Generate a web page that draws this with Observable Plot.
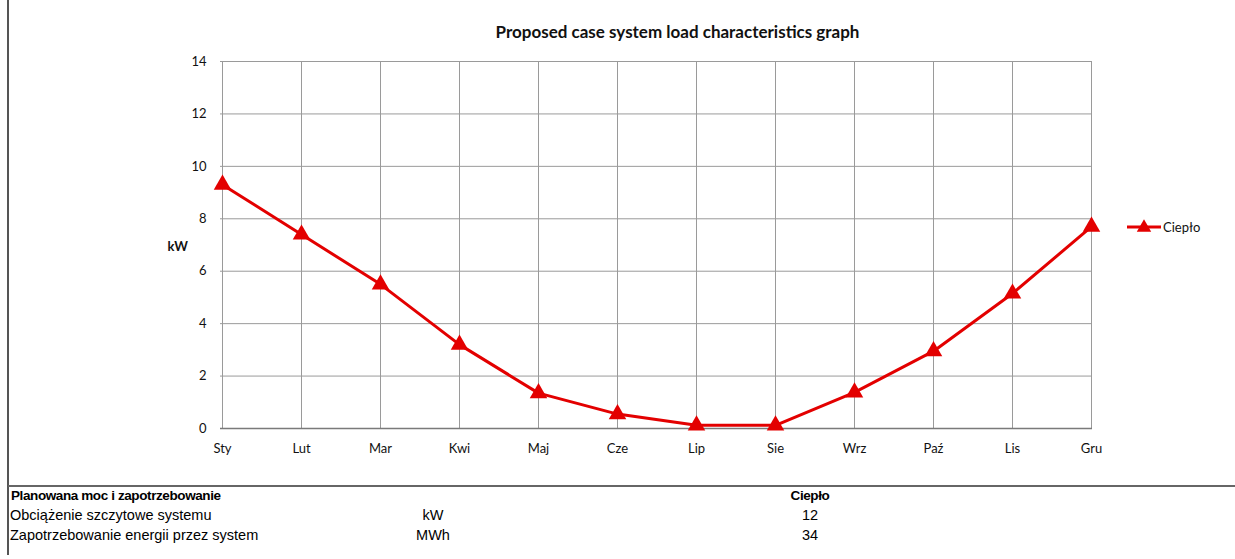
<!DOCTYPE html>
<html>
<head>
<meta charset="utf-8">
<script src="https://cdn.jsdelivr.net/npm/d3@7"></script>
<script src="https://cdn.jsdelivr.net/npm/@observablehq/plot@0.6"></script>
<style>
  html, body { margin: 0; padding: 0; background: #fff; }
  #page { position: relative; width: 1235px; height: 559px; overflow: hidden; font-family: Lato, "Open Sans", sans-serif; background: #fff; }
  #title { position: absolute; left: 0; top: 21px; width: 1355px; text-align: center; font-weight: bold; font-size: 17px; color: #111; }
  #chart { position: absolute; left: 0; top: 50px; }
  #chart svg { background: transparent !important; }
  #legend { position: absolute; left: 1127px; top: 219px; font-size: 13px; color: #111; display: flex; align-items: center; }
  #vline { position: absolute; left: 7px; top: 0; width: 2px; height: 555px; background: #555; z-index: 5; }
  #hline { position: absolute; left: 8px; top: 485px; width: 1227px; height: 2px; background: #666; z-index: 5; }
  #table { position: absolute; left: 0; top: 489px; font-family: "Liberation Sans", Arial, sans-serif; font-size: 14.5px; color: #000; }
  #table .row { position: absolute; white-space: nowrap; }
  #table .bold { font-weight: bold; font-size: 13.5px; letter-spacing: -0.4px; }
</style>
</head>
<body>
<div id="page">
  <div id="title">Proposed case system load characteristics graph</div>
  <div id="chart"></div>
  <div id="legend"></div>
  <div id="table"></div>
  <div id="vline"></div>
  <div id="hline"></div>
</div>
<script>
// Months (Polish abbreviations) and monthly heat load in kW
const months = ["Sty", "Lut", "Mar", "Kwi", "Maj", "Cze", "Lip", "Sie", "Wrz", "Paź", "Lis", "Gru"];
const heatKW = [9.3, 7.4, 5.5, 3.2, 1.35, 0.55, 0.12, 0.12, 1.38, 2.95, 5.15, 7.7];
const yTicks = [0, 2, 4, 6, 8, 10, 12, 14];
const seriesName = "Ciepło";

// Summary table rows
const tableHeader = ["Planowana moc i zapotrzebowanie", "", "Ciepło"];
const tableLabels = ["Obciążenie szczytowe systemu", "Zapotrzebowanie energii przez system"];
const tableUnits = ["kW", "MWh"];
const tableValues = [12, 34];

const red = "#e30000";
const gridColor = "#9a9a9a";

const data = months.map((m, i) => ({month: m, value: heatKW[i]}));

const chart = Plot.plot({
  width: 1235,
  height: 420,
  marginTop: 11,
  marginBottom: 42,
  marginLeft: 220,
  marginRight: 143,
  style: {fontFamily: "Lato, 'Open Sans', sans-serif", fontSize: "13px", color: "#111", background: "transparent"},
  x: {type: "point", domain: months, padding: 0, label: null},
  y: {domain: [0, 14], ticks: yTicks, label: null},
  marks: [
    Plot.ruleY(yTicks, {stroke: gridColor, strokeWidth: 1}),
    Plot.ruleX(months, {stroke: gridColor, strokeWidth: 1}),
    Plot.ruleY([0], {stroke: "#7a7a7a", strokeWidth: 1.5}),
    Plot.axisY({ticks: yTicks, tickSize: 0, tickPadding: 14, fontSize: 13}),
    Plot.axisX({tickSize: 0, tickPadding: 15, fontSize: 13}),
    Plot.text(["kW"], {frameAnchor: "left", dx: -53, dy: 2, fontWeight: "bold", fontSize: 13}),
    Plot.line(data, {x: "month", y: "value", stroke: red, strokeWidth: 3}),
    Plot.dot(data, {x: "month", y: "value", symbol: "triangle", r: 6.5, fill: red, stroke: "none"})
  ]
});
document.getElementById("chart").appendChild(chart);

// Legend: line with triangle marker + series name
const legend = document.getElementById("legend");
legend.innerHTML = `<svg width="36" height="16"><line x1="0" y1="8" x2="34" y2="8" stroke="${red}" stroke-width="3"/>` +
  `<path d="${d3.symbol(d3.symbolTriangle, 90)()}" transform="translate(17,8.5)" fill="${red}"/></svg>` +
  `<span>${seriesName}</span>`;

// Summary table under the chart
const table = document.getElementById("table");
function cell(text, left, top, opts = {}) {
  const d = document.createElement("div");
  d.className = "row" + (opts.bold ? " bold" : "");
  d.textContent = text;
  d.style.top = top + "px";
  if (opts.center) {
    d.style.left = (left - 100) + "px";
    d.style.width = "200px";
    d.style.textAlign = "center";
  } else {
    d.style.left = left + "px";
  }
  table.appendChild(d);
}
cell(tableHeader[0], 11, -1, {bold: true});
cell(tableHeader[2], 810, -1, {bold: true, center: true});
tableLabels.forEach((t, i) => {
  cell(t, 10, 18 + i * 20);
  cell(tableUnits[i], 433, 18 + i * 20, {center: true});
  cell(String(tableValues[i]), 810, 18 + i * 20, {center: true});
});
</script>
</body>
</html>
